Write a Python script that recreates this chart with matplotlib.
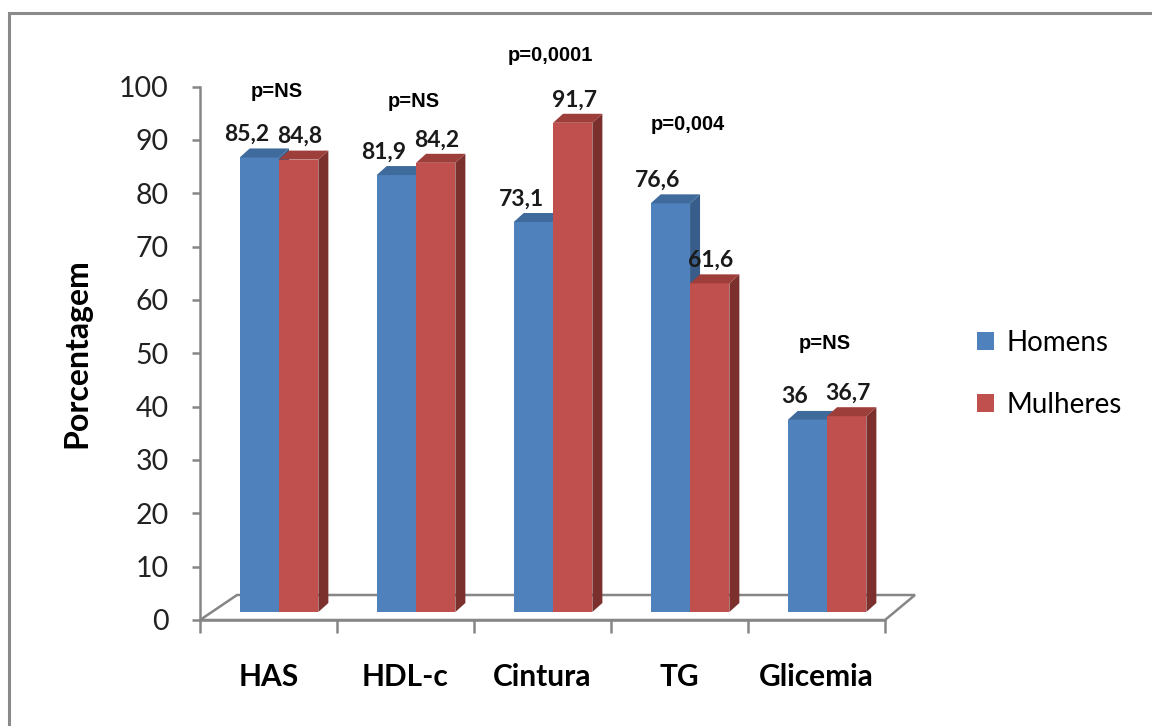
import numpy as np
import matplotlib.pyplot as plt
from matplotlib.patches import Polygon, Rectangle, Patch

categorias = ['HAS', 'HDL-c', 'Cintura', 'TG', 'Glicemia']
homens = [85.2, 81.9, 73.1, 76.6, 36]
mulheres = [84.8, 84.2, 91.7, 61.6, 36.7]
p_valores = ['p=NS', 'p=NS', 'p=0,0001', 'p=0,004', 'p=NS']
p_alturas = [99.0, 97.1, 105.9, 92.8, 51.9]

AZUL, AZUL_LADO, AZUL_TOPO = '#4F81BD', '#385D8A', '#3F6A9C'
VERM, VERM_LADO, VERM_TOPO = '#C0504D', '#7B302E', '#9E3E3B'
CINZA = '#868686'
FONTE = ['Lato', 'DejaVu Sans']


def fmt(v):
    s = f'{v:g}'
    return s.replace('.', ',')


def barra3d(ax, x0, w, base, h, cor, lado, topo, dx, dy):
    top = base + h
    ax.add_patch(Rectangle((x0, base), w, h, facecolor=cor, edgecolor='none', zorder=3))
    ax.add_patch(Polygon([(x0 + w, base), (x0 + w + dx, base + dy),
                          (x0 + w + dx, top + dy), (x0 + w, top)],
                         closed=True, facecolor=lado, edgecolor='none', zorder=3))
    ax.add_patch(Polygon([(x0, top), (x0 + dx, top + dy),
                          (x0 + w + dx, top + dy), (x0 + w, top)],
                         closed=True, facecolor=topo, edgecolor='none', zorder=3))


def main():
    fig = plt.figure(figsize=(11.52, 7.26), dpi=100)
    ax = fig.add_axes([200 / 1152, 1 - 620 / 726, 685 / 1152, 533.5 / 726])
    ax.set_xlim(-0.5, 4.5)
    ax.set_ylim(0, 100)

    # moldura externa
    fig.add_artist(Rectangle((9 / 1152, -0.2), 1.2, 1.2 - 13 / 726,
                             transform=fig.transFigure, fill=False,
                             edgecolor='#8a8a8a', linewidth=2.2))

    # piso 3D
    px_x = 137.0
    px_y = 533.5 / 100
    piso = Polygon([(-0.5, 0), (4.5, 0), (4.5 + 30 / px_x, 25 / px_y),
                    (-0.5 + 37 / px_x, 25 / px_y)], closed=True,
                   facecolor='white', edgecolor=CINZA, linewidth=1.8,
                   clip_on=False, zorder=1)
    ax.add_patch(piso)

    base = 8 / px_y
    dx, dy = 10 / px_x, 9 / px_y
    w = 0.287
    x = np.arange(len(categorias))
    for i in range(len(categorias)):
        barra3d(ax, x[i] - 0.21, w, base, homens[i], AZUL, AZUL_LADO, AZUL_TOPO, dx, dy)
        barra3d(ax, x[i] + 0.077, w, base, mulheres[i], VERM, VERM_LADO, VERM_TOPO, dx, dy)
        ax.text(x[i] - 0.21 + w / 2 - 0.09, homens[i] + 5.8, fmt(homens[i]),
                ha='center', va='center', fontsize=16.5, fontweight='bold',
                family=FONTE, color='#1a1a1a', zorder=5, clip_on=False)
        ax.text(x[i] + 0.077 + w / 2 + 0.01, mulheres[i] + 5.8, fmt(mulheres[i]),
                ha='center', va='center', fontsize=16.5, fontweight='bold',
                family=FONTE, color='#1a1a1a', zorder=5, clip_on=False)
        ax.text(x[i] + 0.06, p_alturas[i], p_valores[i], ha='center', va='center',
                fontsize=14.5, fontweight='bold', family=['Liberation Sans', 'DejaVu Sans'],
                zorder=5, clip_on=False)

    for s in ['top', 'right']:
        ax.spines[s].set_visible(False)
    for s in ['left', 'bottom']:
        ax.spines[s].set_color(CINZA)
        ax.spines[s].set_linewidth(1.8)
        ax.spines[s].set_zorder(2)

    ax.set_yticks(np.arange(0, 101, 10))
    ax.tick_params(axis='y', direction='out', length=5.5, width=1.8, color=CINZA,
                   labelsize=20.5, pad=17, labelcolor='#222222')
    for lb in ax.get_yticklabels():
        lb.set_family(FONTE)

    ax.set_xticks(np.arange(-0.5, 4.6, 1.0))
    ax.set_xticklabels([])
    ax.set_xticks(x, minor=True)
    ax.set_xticklabels(categorias, minor=True)
    ax.tick_params(axis='x', which='major', direction='out', length=9, width=1.8, color=CINZA)
    ax.tick_params(axis='x', which='minor', length=0, pad=31, labelsize=21.5)
    for lb in ax.get_xticklabels(minor=True):
        lb.set_family(FONTE)
        lb.set_fontweight('bold')

    ax.set_ylabel('Porcentagem', fontsize=23, fontweight='bold', family=FONTE, labelpad=20)
    ax.patch.set_alpha(0)

    handles = [Patch(facecolor=AZUL, edgecolor='none'), Patch(facecolor=VERM, edgecolor='none')]
    fig.legend(handles, ['Homens', 'Mulheres'], loc='center left',
               bbox_to_anchor=(952 / 1152, 1 - 374 / 726), frameon=False,
               prop={'family': FONTE, 'size': 20}, handlelength=0.6, handleheight=0.6,
               handletextpad=0.45, labelspacing=1.3)

    fig.savefig('out.png', dpi=100)


if __name__ == '__main__':
    main()
